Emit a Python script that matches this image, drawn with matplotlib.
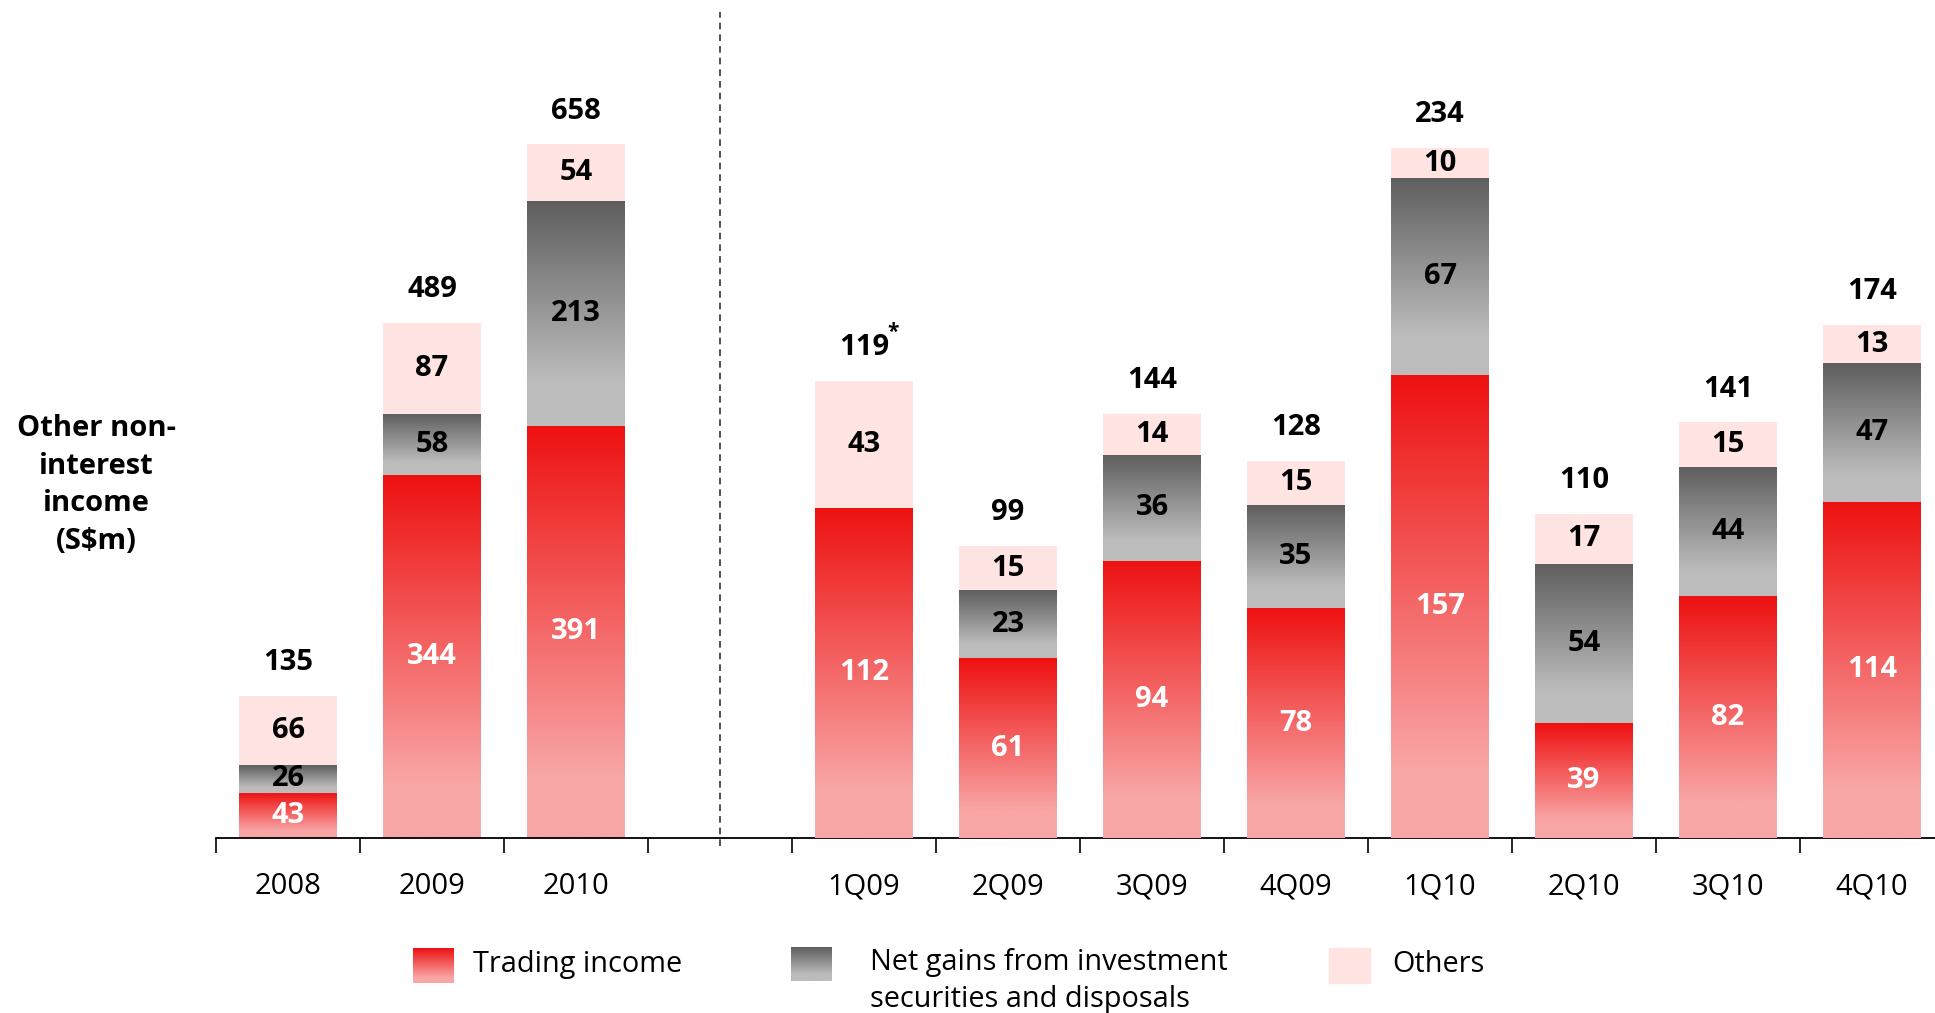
import numpy as np
import matplotlib
matplotlib.use("Agg")
import matplotlib.pyplot as plt
from matplotlib.colors import to_rgb

plt.rcParams['font.family'] = ['Open Sans', 'DejaVu Sans']

# annual figures (S$m)
years = ["2008", "2009", "2010"]
trading_y = [43, 344, 391]
netgains_y = [26, 58, 213]
others_y = [66, 87, 54]
totals_y = ["135", "489", "658"]

# quarterly figures (S$m)
quarters = ["1Q09", "2Q09", "3Q09", "4Q09", "1Q10", "2Q10", "3Q10", "4Q10"]
trading_q = [112, 61, 94, 78, 157, 39, 82, 114]
netgains_q = [0, 23, 36, 35, 67, 54, 44, 47]
others_q = [43, 15, 14, 15, 10, 17, 15, 13]
totals_q = ["119", "99", "144", "128", "234", "110", "141", "174"]

legend_labels = ["Trading income", "Net gains from investment\nsecurities and disposals", "Others"]

RED_TOP, RED_BOT = "#ee1111", "#f9a6a6"
GREY_TOP, GREY_BOT = "#5e5e5e", "#bcbcbc"
OTHERS = "#ffe4e1"
BAR_W = 0.68


def gradient(top, bottom, frac=0.85, n=200):
    # vertical colour ramp, top colour at row 0, flat bottom colour after frac
    t = np.clip(np.linspace(0, 1, n) / frac, 0, 1)[:, None]
    c = np.array(to_rgb(top)) * (1 - t) + np.array(to_rgb(bottom)) * t
    return c[:, None, :]


RED_IMG = gradient(RED_TOP, RED_BOT, 0.85)
GREY_IMG = gradient(GREY_TOP, GREY_BOT, 0.8)


def fill_bars(axis, bars, img):
    for b in bars:
        if b.get_height() <= 0:
            continue
        x0, y0, w, h = b.get_x(), b.get_y(), b.get_width(), b.get_height()
        im = axis.imshow(img, extent=(x0, x0 + w, y0, y0 + h), origin="upper",
                         aspect="auto", interpolation="bilinear", zorder=2)
        im.set_clip_path(b)


def draw_stack(axis, xs, trading, netgains, others, totals):
    trading = np.array(trading)
    netgains = np.array(netgains)
    others = np.array(others)
    b1 = axis.bar(xs, trading, BAR_W, facecolor="none", edgecolor="none", zorder=1)
    b2 = axis.bar(xs, netgains, BAR_W, bottom=trading, facecolor="none", edgecolor="none", zorder=1)
    b3 = axis.bar(xs, others, BAR_W, bottom=trading + netgains, color=OTHERS, zorder=2)
    fill_bars(axis, b1, RED_IMG)
    fill_bars(axis, b2, GREY_IMG)
    for i, x in enumerate(xs):
        axis.text(x, trading[i] / 2, str(trading[i]), ha="center", va="center",
                  color="white", fontsize=21, fontweight="bold", zorder=3)
        if netgains[i] > 0:
            axis.text(x, trading[i] + netgains[i] / 2, str(netgains[i]), ha="center", va="center",
                      color="black", fontsize=21, fontweight="bold", zorder=3)
        axis.text(x, trading[i] + netgains[i] + others[i] / 2, str(others[i]), ha="center",
                  va="center", color="black", fontsize=21, fontweight="bold", zorder=3)
        top = trading[i] + netgains[i] + others[i]
        axis.annotate(totals[i], (x, top), xytext=(0, 24), textcoords="offset points",
                      ha="center", va="center", fontsize=21, fontweight="bold", zorder=3)


fig = plt.figure(figsize=(19.35, 10.13), dpi=100)
ax = fig.add_axes([216 / 1935, 1 - 838 / 1013, 1 - 216 / 1935, 838 / 1013])
ax2 = ax.twinx()

x_years = np.arange(len(years))
x_quarters = np.arange(len(quarters)) + len(years) + 1

draw_stack(ax, x_years, trading_y, netgains_y, others_y, totals_y)
draw_stack(ax2, x_quarters, trading_q, netgains_q, others_q, totals_q)

# footnote marker on 1Q09 total
top_1q09 = trading_q[0] + netgains_q[0] + others_q[0]
ax2.annotate("*", (x_quarters[0], top_1q09), xytext=(21, 35), textcoords="offset points",
             ha="center", va="center", fontsize=15, fontweight="bold")

ax.set_xlim(-0.5, -0.5 + (1935 - 216) / 144)
ax.set_ylim(0, 795)
ax2.set_ylim(0, 284.3)

# separator between annual and quarterly
ax.axvline(len(years), ymin=-0.01, ymax=(838 - 12) / 838, color="#333333", lw=1.2,
           ls=(0, (4, 3)), clip_on=False)

for a in (ax, ax2):
    for s in ("top", "right", "left"):
        a.spines[s].set_visible(False)
    a.set_yticks([])
ax2.spines["bottom"].set_visible(False)
ax.spines["bottom"].set_linewidth(1.3)

ax.set_xticks(list(x_years) + list(x_quarters))
ax.set_xticklabels(years + quarters, fontsize=21)
ax.set_xticks(np.arange(-0.5, 11, 1), minor=True)
ax.tick_params(axis="x", which="major", length=0, pad=24.5)
ax.tick_params(axis="x", which="minor", length=11, width=1.2, direction="out")

fig.text(96 / 1935, 1 - 485 / 1013, "Other non-\ninterest\nincome\n(S$m)", ha="center",
         va="center", multialignment="center", fontsize=21, fontweight="bold", linespacing=1.4)

# legend drawn in pixel coordinates
lax = fig.add_axes([0, 0, 1, 1])
lax.axis("off")
lax.imshow(RED_IMG, extent=(413, 454, 983, 948), origin="upper", aspect="auto")
lax.imshow(GREY_IMG, extent=(791, 832, 981, 947), origin="upper", aspect="auto")
lax.add_patch(plt.Rectangle((1329, 948), 41, 35, color=OTHERS))
lax.text(473, 964, legend_labels[0], va="center", fontsize=20.8)
lax.text(870, 962, legend_labels[1].split("\n")[0], va="center", fontsize=20.8)
lax.text(870, 999, legend_labels[1].split("\n")[1], va="center", fontsize=20.8)
lax.text(1392, 964, legend_labels[2], va="center", fontsize=20.8)
lax.set_xlim(0, 1935)
lax.set_ylim(1013, 0)

fig.savefig("out.png", dpi=100)
